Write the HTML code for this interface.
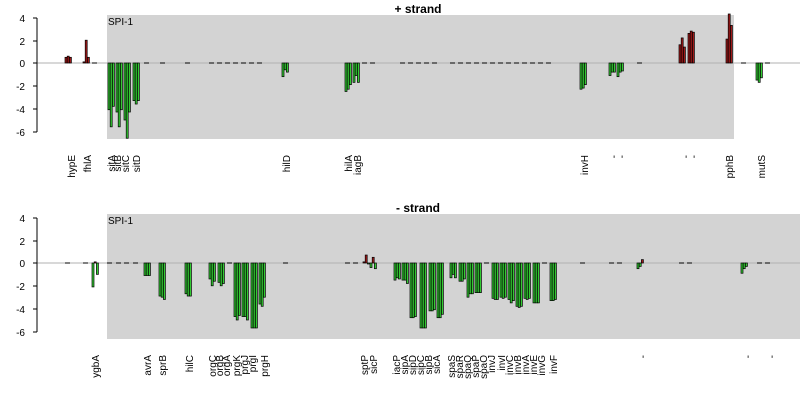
<!DOCTYPE html>
<html><head><meta charset="utf-8"><style>
body{margin:0;background:#fff;}
svg{display:block;font-family:"Liberation Sans",sans-serif;}
.t{font-size:10px;fill:#000}
</style></head><body>
<div style="position:relative;width:800px;height:400px">
<svg width="800" height="400" xmlns="http://www.w3.org/2000/svg" style="position:absolute;left:0;top:0">
<rect x="107" y="15" width="627" height="124" fill="#d3d3d3"/>
<rect x="107" y="214" width="693" height="125" fill="#d3d3d3"/>
<line x1="37" y1="63" x2="800" y2="63" stroke="#b0b0b0"/>
<line x1="37" y1="263" x2="800" y2="263" stroke="#b0b0b0"/>
<g id="bars"></g>
<g stroke="#000" fill="none">
<path d="M37,18V132M33,18H37M33,41H37M33,63H37M33,86H37M33,109H37M33,132H37"/>
<path d="M37,218V332M33,218H37M33,241H37M33,263H37M33,286H37M33,309H37M33,332H37"/>
</g>
<g class="t" text-anchor="end">
<text x="25" y="22">4</text><text x="25" y="45">2</text><text x="25" y="67">0</text><text x="25" y="90">-2</text><text x="25" y="113">-4</text><text x="25" y="136">-6</text>
<text x="25" y="222">4</text><text x="25" y="245">2</text><text x="25" y="267">0</text><text x="25" y="290">-2</text><text x="25" y="313">-4</text><text x="25" y="336">-6</text>
</g>
<text x="108" y="25" class="t">SPI-1</text>
<text x="108" y="224" class="t">SPI-1</text>
<text x="418" y="13" text-anchor="middle" style="font-size:12px;font-weight:bold">+ strand</text>
<text x="418" y="212" text-anchor="middle" style="font-size:12px;font-weight:bold">- strand</text>
<g font-size="10" text-anchor="end">
<text transform="translate(75,155) rotate(-90)">hypE</text>
<text transform="translate(91,155) rotate(-90)">fhlA</text>
<text transform="translate(115,155) rotate(-90)">sitA</text>
<text transform="translate(121,155) rotate(-90)">sitB</text>
<text transform="translate(129,155) rotate(-90)">sitC</text>
<text transform="translate(140,155) rotate(-90)">sitD</text>
<text transform="translate(290,155) rotate(-90)">hilD</text>
<text transform="translate(352,155) rotate(-90)">hilA</text>
<text transform="translate(361,155) rotate(-90)">iagB</text>
<text transform="translate(588,155) rotate(-90)">invH</text>
<text transform="translate(617,155) rotate(-90)">-</text>
<text transform="translate(625,155) rotate(-90)">-</text>
<text transform="translate(689,155) rotate(-90)">-</text>
<text transform="translate(697,155) rotate(-90)">-</text>
<text transform="translate(733,155) rotate(-90)">pphB</text>
<text transform="translate(765,155) rotate(-90)">mutS</text>
<text transform="translate(99,355) rotate(-90)">ygbA</text>
<text transform="translate(151,355) rotate(-90)">avrA</text>
<text transform="translate(166,355) rotate(-90)">sprB</text>
<text transform="translate(193,355) rotate(-90)">hilC</text>
<text transform="translate(216,355) rotate(-90)">orgC</text>
<text transform="translate(223,355) rotate(-90)">orgB</text>
<text transform="translate(230,355) rotate(-90)">orgA</text>
<text transform="translate(240,355) rotate(-90)">prgK</text>
<text transform="translate(248,355) rotate(-90)">prgJ</text>
<text transform="translate(256,355) rotate(-90)">prgI</text>
<text transform="translate(268,355) rotate(-90)">prgH</text>
<text transform="translate(368,355) rotate(-90)">sptP</text>
<text transform="translate(377,355) rotate(-90)">sicP</text>
<text transform="translate(400,355) rotate(-90)">iacP</text>
<text transform="translate(408,355) rotate(-90)">sipA</text>
<text transform="translate(416,355) rotate(-90)">sipD</text>
<text transform="translate(424,355) rotate(-90)">sipC</text>
<text transform="translate(432,355) rotate(-90)">sipB</text>
<text transform="translate(440,355) rotate(-90)">sicA</text>
<text transform="translate(455,355) rotate(-90)">spaS</text>
<text transform="translate(463,355) rotate(-90)">spaR</text>
<text transform="translate(471,355) rotate(-90)">spaQ</text>
<text transform="translate(479,355) rotate(-90)">spaP</text>
<text transform="translate(487,355) rotate(-90)">spaO</text>
<text transform="translate(495,355) rotate(-90)">invJ</text>
<text transform="translate(505,355) rotate(-90)">invI</text>
<text transform="translate(513,355) rotate(-90)">invC</text>
<text transform="translate(521,355) rotate(-90)">invB</text>
<text transform="translate(529,355) rotate(-90)">invA</text>
<text transform="translate(537,355) rotate(-90)">invE</text>
<text transform="translate(545,355) rotate(-90)">invG</text>
<text transform="translate(557,355) rotate(-90)">invF</text>
<text transform="translate(646,355) rotate(-90)">-</text>
<text transform="translate(751,355) rotate(-90)">-</text>
<text transform="translate(775,355) rotate(-90)">-</text>
</g>
</svg>
</div>
<script>
(function(){
var G='#33cc33',R='#a01818';
var tp=[[65,[.5,.6,.5]],[83,[.1,2,.5]],[108,[-4.1,-5.6,-3.8]],[116,[-4.3,-5.6,-4.1]],[124,[-5,-6.6,-4.3]],[133,[-3.3,-3.6,-3.3]],
[282,[-1.2,-.6,-.8]],[345,[-2.5,-2.3,-1.9]],[353,[-1.7,-1.1,-1.7]],[580,[-2.3,-2.2,-1.9]],[609,[-1.1,-.8,-.8]],[617,[-1.2,-.8,-.7]],
[679,[1.6,2.2,1.4]],[688,[2.6,2.8,2.7]],[726,[2.1,4.3,3.3]],[756,[-1.5,-1.7,-1.3]]];
var tpD=[92,144,160,185,209,217,225,233,241,249,257,362,370,400,408,416,424,432,450,458,466,474,482,490,498,506,514,522,530,538,546,637,741,765];
var bt=[[92,[-2.1,.1,-1]],[144,[-1.1,-1.1,-1.1]],[159,[-2.9,-3,-3.2]],[185,[-2.7,-2.9,-2.9]],[209,[-1.4,-2,-1.6]],[218,[-1.7,-2,-1.8]],
[234,[-4.7,-5,-4.6]],[242,[-4.7,-4.7,-5]],[251,[-5.7,-5.7,-5.7]],[259,[-3.6,-3.8,-3]],[363,[.1,.7,0]],[370,[-.4,.5,-.5]],
[394,[-1.5,-1.3,-1.4]],[402,[-1.5,-1.5,-1.8]],[410,[-4.8,-4.8,-4.7]],[420,[-5.7,-5.7,-5.7]],[429,[-4.2,-4.2,-4.1]],[437,[-4.8,-4.8,-4.5]],
[450,[-1.3,-1,-1.3]],[459,[-1.6,-1.6,-1.4]],[467,[-3,-2.7,-2.7]],[475,[-2.6,-2.6,-2.6]],[492,[-3.1,-3.2,-3.2]],[500,[-3,-3.1,-3]],
[508,[-3.2,-3.5,-3.3]],[516,[-3.8,-3.9,-3.8]],[524,[-3.1,-3.2,-3.1]],[533,[-3.5,-3.5,-3.5]],[550,[-3.3,-3.3,-3.2]],[637,[-.5,-.3,.3]],[741,[-.9,-.5,-.3]]];
var btD=[65,83,107,116,124,133,227,283,345,353,484,542,580,609,617,679,687,757,765];
var NS='http://www.w3.org/2000/svg',g=document.getElementById('bars');
function el(n,a){var e=document.createElementNS(NS,n);for(var k in a)e.setAttribute(k,a[k]);g.appendChild(e);}
function draw(gs,ds,z){
 gs.forEach(function(q){q[1].forEach(function(v,i){var x=q[0]+i*2.2,y=z-v*11.4;
  el('rect',{x:x,y:Math.min(y,z),width:2,height:Math.max(Math.abs(z-y),1),fill:(v>0?R:G),stroke:'#000','stroke-width':0.7});});});
 ds.forEach(function(x){el('line',{x1:x,x2:x+5,y1:z,y2:z,stroke:'#000'});});
}
draw(tp,tpD,63);draw(bt,btD,263);
})();
</script>
</body></html>
